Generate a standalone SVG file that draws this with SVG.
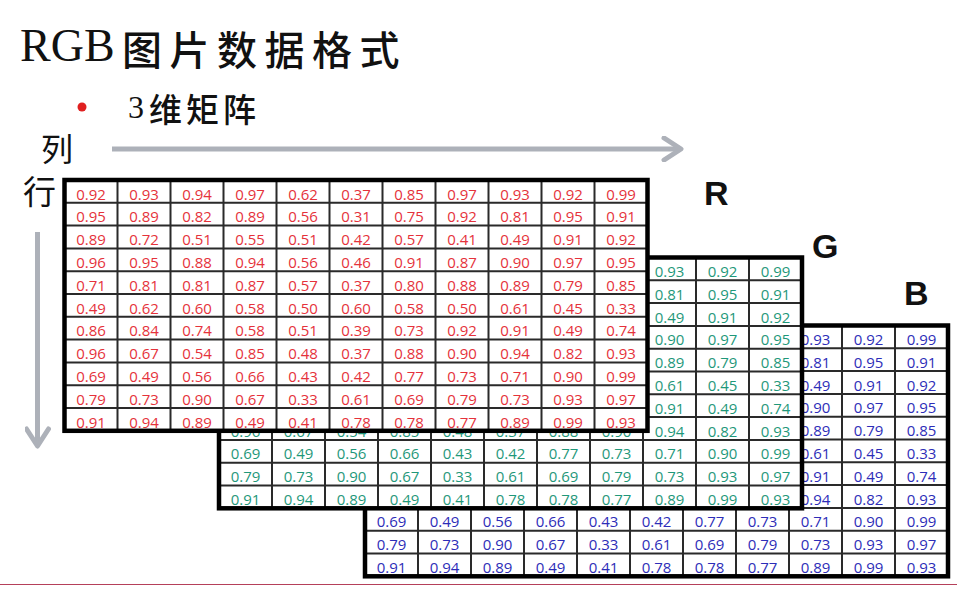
<svg xmlns="http://www.w3.org/2000/svg" width="972" height="592" viewBox="0 0 972 592">
<style>
.cell{font-family:"Open Sans","Liberation Sans",sans-serif;font-size:15px;text-anchor:middle}
.vr{fill:#e5323b}
.vg{fill:#1f987a}
.vb{fill:#2d2db8}
.lbl{font-family:"Liberation Sans",Arial,sans-serif;font-weight:bold;font-size:34px;fill:#111}
.cjk{font-family:"Noto Sans CJK SC",sans-serif;fill:#111}
.arrow{stroke:#adb1b9;stroke-width:5;fill:none}
</style>
<defs>
<marker id="chev" viewBox="0 0 24 26" refX="20" refY="13" markerWidth="24" markerHeight="26" orient="auto" markerUnits="userSpaceOnUse">
<path d="M3,2 L20,13 L3,24" fill="none" stroke="#adb1b9" stroke-width="5" stroke-linecap="round" stroke-linejoin="round"/>
</marker>
<clipPath id="below-r"><rect x="0" y="432.5" width="972" height="160"/></clipPath>
<g id="mgrid">
<rect x="0" y="0" width="583" height="250.8" fill="#ffffff"/>
<path d="M53,0V250.8M106,0V250.8M159,0V250.8M212,0V250.8M265,0V250.8M318,0V250.8M371,0V250.8M424,0V250.8M477,0V250.8M530,0V250.8M0,22.8H583M0,45.6H583M0,68.4H583M0,91.2H583M0,114H583M0,136.8H583M0,159.6H583M0,182.4H583M0,205.2H583M0,228H583" stroke="#2a2a2a" stroke-width="2" fill="none"/>
<rect x="0" y="0" width="583" height="250.8" fill="none" stroke="#000" stroke-width="4.5"/>
</g>
</defs>
<rect width="972" height="592" fill="#ffffff"/>

<g id="title">
<text x="20" y="61" font-family="Liberation Serif,serif" font-size="46" fill="#111">RGB<tspan class="cjk" x="122" y="65" font-size="40" font-weight="500" letter-spacing="7.5">图片数据格式</tspan></text>
</g>

<g id="bullet">
<circle cx="82" cy="107" r="4.5" fill="#e02020"/>
<text x="128" y="117.5" font-family="Liberation Serif,serif" font-size="32" fill="#111">3<tspan class="cjk" dx="5" dy="4" font-size="33" font-weight="500" letter-spacing="4">维矩阵</tspan></text>
</g>

<g id="axis-labels">
<text class="cjk" x="41" y="161" font-size="32">列</text>
<text class="cjk" x="23" y="204" font-size="33">行</text>
</g>

<g id="connectors">
<line class="arrow" x1="112" y1="149" x2="681" y2="149" marker-end="url(#chev)"/>
<line class="arrow" x1="37.5" y1="232" x2="37.5" y2="446" marker-end="url(#chev)"/>
</g>

<g id="matrix-b">
<use href="#mgrid" x="365" y="325.5"/>
<g class="cell vb">
<text x="815.5" y="345">0.93</text><text x="868.5" y="345">0.92</text><text x="921.5" y="345">0.99</text>
<text x="815.5" y="367.8">0.81</text><text x="868.5" y="367.8">0.95</text><text x="921.5" y="367.8">0.91</text>
<text x="815.5" y="390.6">0.49</text><text x="868.5" y="390.6">0.91</text><text x="921.5" y="390.6">0.92</text>
<text x="815.5" y="413.4">0.90</text><text x="868.5" y="413.4">0.97</text><text x="921.5" y="413.4">0.95</text>
<text x="815.5" y="436.2">0.89</text><text x="868.5" y="436.2">0.79</text><text x="921.5" y="436.2">0.85</text>
<text x="815.5" y="459">0.61</text><text x="868.5" y="459">0.45</text><text x="921.5" y="459">0.33</text>
<text x="815.5" y="481.8">0.91</text><text x="868.5" y="481.8">0.49</text><text x="921.5" y="481.8">0.74</text>
<text x="815.5" y="504.6">0.94</text><text x="868.5" y="504.6">0.82</text><text x="921.5" y="504.6">0.93</text>
<text x="391.5" y="527.4">0.69</text><text x="444.5" y="527.4">0.49</text><text x="497.5" y="527.4">0.56</text><text x="550.5" y="527.4">0.66</text><text x="603.5" y="527.4">0.43</text><text x="656.5" y="527.4">0.42</text><text x="709.5" y="527.4">0.77</text><text x="762.5" y="527.4">0.73</text><text x="815.5" y="527.4">0.71</text><text x="868.5" y="527.4">0.90</text><text x="921.5" y="527.4">0.99</text>
<text x="391.5" y="550.2">0.79</text><text x="444.5" y="550.2">0.73</text><text x="497.5" y="550.2">0.90</text><text x="550.5" y="550.2">0.67</text><text x="603.5" y="550.2">0.33</text><text x="656.5" y="550.2">0.61</text><text x="709.5" y="550.2">0.69</text><text x="762.5" y="550.2">0.79</text><text x="815.5" y="550.2">0.73</text><text x="868.5" y="550.2">0.93</text><text x="921.5" y="550.2">0.97</text>
<text x="391.5" y="573">0.91</text><text x="444.5" y="573">0.94</text><text x="497.5" y="573">0.89</text><text x="550.5" y="573">0.49</text><text x="603.5" y="573">0.41</text><text x="656.5" y="573">0.78</text><text x="709.5" y="573">0.78</text><text x="762.5" y="573">0.77</text><text x="815.5" y="573">0.89</text><text x="868.5" y="573">0.99</text><text x="921.5" y="573">0.93</text>
</g>
</g>

<g id="matrix-g">
<use href="#mgrid" x="219" y="257.5"/>
<g class="cell vg">
<text x="669.5" y="277">0.93</text><text x="722.5" y="277">0.92</text><text x="775.5" y="277">0.99</text>
<text x="669.5" y="299.8">0.81</text><text x="722.5" y="299.8">0.95</text><text x="775.5" y="299.8">0.91</text>
<text x="669.5" y="322.6">0.49</text><text x="722.5" y="322.6">0.91</text><text x="775.5" y="322.6">0.92</text>
<text x="669.5" y="345.4">0.90</text><text x="722.5" y="345.4">0.97</text><text x="775.5" y="345.4">0.95</text>
<text x="669.5" y="368.2">0.89</text><text x="722.5" y="368.2">0.79</text><text x="775.5" y="368.2">0.85</text>
<text x="669.5" y="391">0.61</text><text x="722.5" y="391">0.45</text><text x="775.5" y="391">0.33</text>
<text x="669.5" y="413.8">0.91</text><text x="722.5" y="413.8">0.49</text><text x="775.5" y="413.8">0.74</text>
<g clip-path="url(#below-r)">
<text x="245.5" y="436.6">0.96</text><text x="298.5" y="436.6">0.67</text><text x="351.5" y="436.6">0.54</text><text x="404.5" y="436.6">0.85</text><text x="457.5" y="436.6">0.48</text><text x="510.5" y="436.6">0.37</text><text x="563.5" y="436.6">0.88</text><text x="616.5" y="436.6">0.90</text>
</g>
<text x="669.5" y="436.6">0.94</text><text x="722.5" y="436.6">0.82</text><text x="775.5" y="436.6">0.93</text>
<text x="245.5" y="459.4">0.69</text><text x="298.5" y="459.4">0.49</text><text x="351.5" y="459.4">0.56</text><text x="404.5" y="459.4">0.66</text><text x="457.5" y="459.4">0.43</text><text x="510.5" y="459.4">0.42</text><text x="563.5" y="459.4">0.77</text><text x="616.5" y="459.4">0.73</text><text x="669.5" y="459.4">0.71</text><text x="722.5" y="459.4">0.90</text><text x="775.5" y="459.4">0.99</text>
<text x="245.5" y="482.2">0.79</text><text x="298.5" y="482.2">0.73</text><text x="351.5" y="482.2">0.90</text><text x="404.5" y="482.2">0.67</text><text x="457.5" y="482.2">0.33</text><text x="510.5" y="482.2">0.61</text><text x="563.5" y="482.2">0.69</text><text x="616.5" y="482.2">0.79</text><text x="669.5" y="482.2">0.73</text><text x="722.5" y="482.2">0.93</text><text x="775.5" y="482.2">0.97</text>
<text x="245.5" y="505">0.91</text><text x="298.5" y="505">0.94</text><text x="351.5" y="505">0.89</text><text x="404.5" y="505">0.49</text><text x="457.5" y="505">0.41</text><text x="510.5" y="505">0.78</text><text x="563.5" y="505">0.78</text><text x="616.5" y="505">0.77</text><text x="669.5" y="505">0.89</text><text x="722.5" y="505">0.99</text><text x="775.5" y="505">0.93</text>
</g>
</g>

<g id="matrix-r">
<use href="#mgrid" x="64.5" y="180"/>
<g class="cell vr">
<text x="91" y="199.5">0.92</text><text x="144" y="199.5">0.93</text><text x="197" y="199.5">0.94</text><text x="250" y="199.5">0.97</text><text x="303" y="199.5">0.62</text><text x="356" y="199.5">0.37</text><text x="409" y="199.5">0.85</text><text x="462" y="199.5">0.97</text><text x="515" y="199.5">0.93</text><text x="568" y="199.5">0.92</text><text x="621" y="199.5">0.99</text>
<text x="91" y="222.3">0.95</text><text x="144" y="222.3">0.89</text><text x="197" y="222.3">0.82</text><text x="250" y="222.3">0.89</text><text x="303" y="222.3">0.56</text><text x="356" y="222.3">0.31</text><text x="409" y="222.3">0.75</text><text x="462" y="222.3">0.92</text><text x="515" y="222.3">0.81</text><text x="568" y="222.3">0.95</text><text x="621" y="222.3">0.91</text>
<text x="91" y="245.1">0.89</text><text x="144" y="245.1">0.72</text><text x="197" y="245.1">0.51</text><text x="250" y="245.1">0.55</text><text x="303" y="245.1">0.51</text><text x="356" y="245.1">0.42</text><text x="409" y="245.1">0.57</text><text x="462" y="245.1">0.41</text><text x="515" y="245.1">0.49</text><text x="568" y="245.1">0.91</text><text x="621" y="245.1">0.92</text>
<text x="91" y="267.9">0.96</text><text x="144" y="267.9">0.95</text><text x="197" y="267.9">0.88</text><text x="250" y="267.9">0.94</text><text x="303" y="267.9">0.56</text><text x="356" y="267.9">0.46</text><text x="409" y="267.9">0.91</text><text x="462" y="267.9">0.87</text><text x="515" y="267.9">0.90</text><text x="568" y="267.9">0.97</text><text x="621" y="267.9">0.95</text>
<text x="91" y="290.7">0.71</text><text x="144" y="290.7">0.81</text><text x="197" y="290.7">0.81</text><text x="250" y="290.7">0.87</text><text x="303" y="290.7">0.57</text><text x="356" y="290.7">0.37</text><text x="409" y="290.7">0.80</text><text x="462" y="290.7">0.88</text><text x="515" y="290.7">0.89</text><text x="568" y="290.7">0.79</text><text x="621" y="290.7">0.85</text>
<text x="91" y="313.5">0.49</text><text x="144" y="313.5">0.62</text><text x="197" y="313.5">0.60</text><text x="250" y="313.5">0.58</text><text x="303" y="313.5">0.50</text><text x="356" y="313.5">0.60</text><text x="409" y="313.5">0.58</text><text x="462" y="313.5">0.50</text><text x="515" y="313.5">0.61</text><text x="568" y="313.5">0.45</text><text x="621" y="313.5">0.33</text>
<text x="91" y="336.3">0.86</text><text x="144" y="336.3">0.84</text><text x="197" y="336.3">0.74</text><text x="250" y="336.3">0.58</text><text x="303" y="336.3">0.51</text><text x="356" y="336.3">0.39</text><text x="409" y="336.3">0.73</text><text x="462" y="336.3">0.92</text><text x="515" y="336.3">0.91</text><text x="568" y="336.3">0.49</text><text x="621" y="336.3">0.74</text>
<text x="91" y="359.1">0.96</text><text x="144" y="359.1">0.67</text><text x="197" y="359.1">0.54</text><text x="250" y="359.1">0.85</text><text x="303" y="359.1">0.48</text><text x="356" y="359.1">0.37</text><text x="409" y="359.1">0.88</text><text x="462" y="359.1">0.90</text><text x="515" y="359.1">0.94</text><text x="568" y="359.1">0.82</text><text x="621" y="359.1">0.93</text>
<text x="91" y="381.9">0.69</text><text x="144" y="381.9">0.49</text><text x="197" y="381.9">0.56</text><text x="250" y="381.9">0.66</text><text x="303" y="381.9">0.43</text><text x="356" y="381.9">0.42</text><text x="409" y="381.9">0.77</text><text x="462" y="381.9">0.73</text><text x="515" y="381.9">0.71</text><text x="568" y="381.9">0.90</text><text x="621" y="381.9">0.99</text>
<text x="91" y="404.7">0.79</text><text x="144" y="404.7">0.73</text><text x="197" y="404.7">0.90</text><text x="250" y="404.7">0.67</text><text x="303" y="404.7">0.33</text><text x="356" y="404.7">0.61</text><text x="409" y="404.7">0.69</text><text x="462" y="404.7">0.79</text><text x="515" y="404.7">0.73</text><text x="568" y="404.7">0.93</text><text x="621" y="404.7">0.97</text>
<text x="91" y="427.5">0.91</text><text x="144" y="427.5">0.94</text><text x="197" y="427.5">0.89</text><text x="250" y="427.5">0.49</text><text x="303" y="427.5">0.41</text><text x="356" y="427.5">0.78</text><text x="409" y="427.5">0.78</text><text x="462" y="427.5">0.77</text><text x="515" y="427.5">0.89</text><text x="568" y="427.5">0.99</text><text x="621" y="427.5">0.93</text>
</g>
</g>

<g id="channel-labels">
<text class="lbl" x="704" y="205">R</text>
<text class="lbl" x="812" y="258">G</text>
<text class="lbl" x="904" y="305">B</text>
</g>

<line x1="0" y1="584.5" x2="957" y2="584.5" stroke="#b5405a" stroke-width="1.2"/>
</svg>
